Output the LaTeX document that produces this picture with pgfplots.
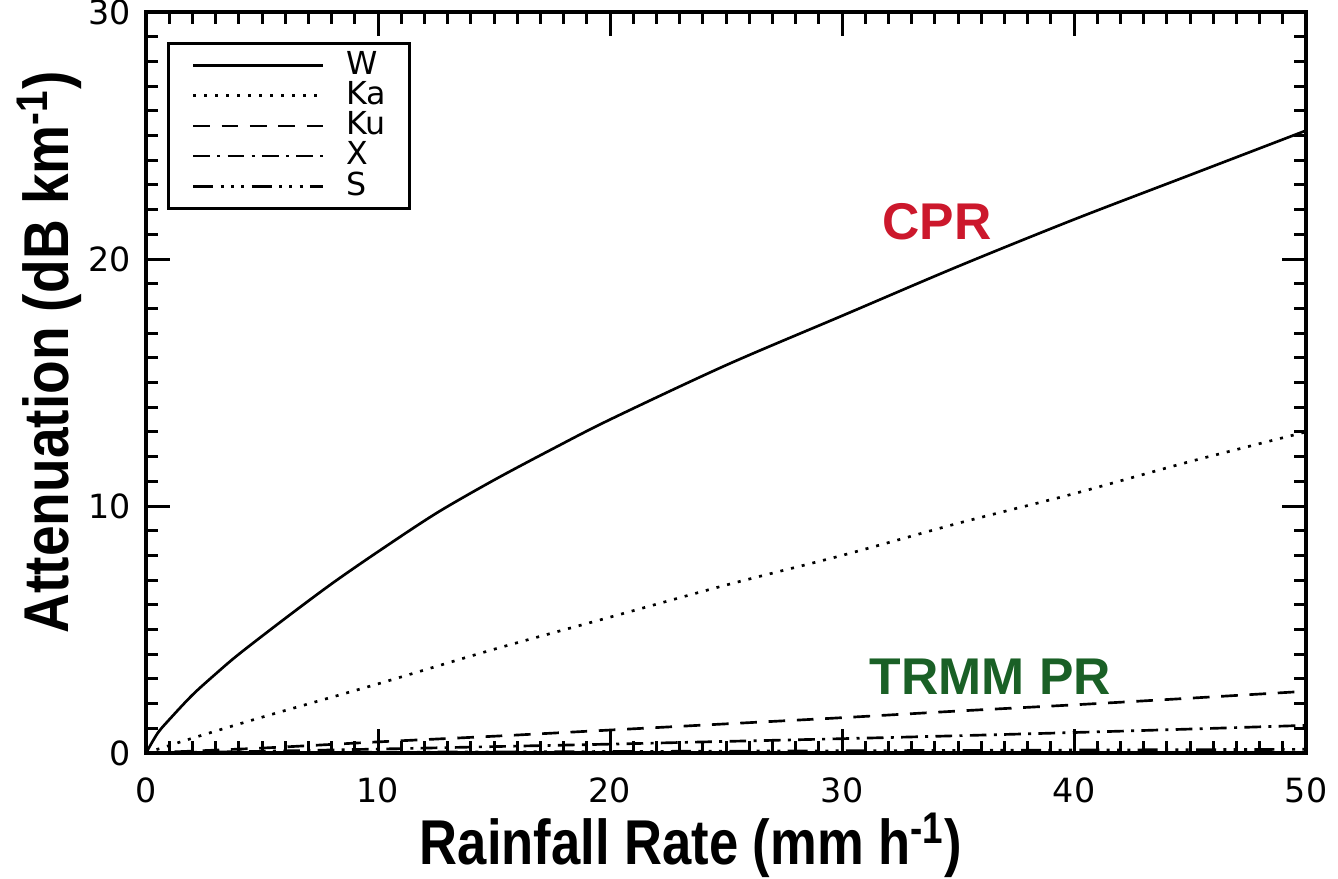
\documentclass[border=0pt]{standalone}
\usepackage{fontspec}
\setmainfont{Liberation Sans}
\newfontfamily\tickfont{DejaVu Sans}
\newfontfamily\labfont[FakeStretch=0.83]{Liberation Sans}
\newfontfamily\ylabfont[FakeStretch=0.87]{Liberation Sans}
\usepackage{pgfplots}
\pgfplotsset{compat=1.18}
\definecolor{cprred}{RGB}{204,24,44}
\definecolor{trmmgreen}{RGB}{26,96,38}

\begin{document}
\begin{tikzpicture}
\begin{axis}[
    scale only axis,
    width=348pt, height=222.3pt,
    xmin=0, xmax=50, ymin=0, ymax=30,
    xtick={0,10,20,30,40,50},
    ytick={0,10,20,30},
    minor x tick num=9,
    minor y tick num=9,
    tick align=inside,
    major tick length=7.2pt,
    minor tick length=3.6pt,
    tick style={black, line width=0.9pt},
    axis line style={line width=1.2pt},
    tick label style={font=\tickfont\fontsize{10}{12}\selectfont},
    /pgf/number format/assume math mode=true,
    xticklabel style={yshift=-4pt},
    yticklabel style={xshift=-1pt},
    xlabel={\labfont\bfseries Rainfall Rate (mm h\textsuperscript{-1})},
    ylabel={\ylabfont\bfseries Attenuation (dB km\textsuperscript{-1})},
    label style={font=\fontsize{19}{22}\selectfont},
    xlabel style={at={(axis description cs:0.47,-0.124)}, anchor=center},
    ylabel style={at={(axis description cs:-0.083,0.541)}, anchor=center},
    legend style={
        at={(axis description cs:0.018,0.96)}, anchor=north west,
        draw=black, line width=1.0pt,
        font=\tickfont\fontsize{9.5}{10}\selectfont,
        inner xsep=7pt, inner ysep=2.5pt,
        nodes={inner sep=0pt},
        row sep=0.6pt, column sep=6.6pt,
        cells={anchor=west}
    },
    legend image code/.code={\draw[#1, line width=0.8pt] (0pt,0pt) -- (39pt,0pt);},
]
% W
\addplot[black, line width=0.8pt, smooth] coordinates {
    (0,0) (0.5,0.8) (1,1.35) (2,2.35) (3,3.2) (4,4.0) (6,5.45) (8,6.85)
    (10,8.15) (12.5,9.7) (15,11.05) (17.5,12.3) (20,13.5) (25,15.7)
    (30,17.7) (35,19.7) (40,21.6) (45,23.4) (50,25.2)
};
% Ka
\addplot[black, line width=0.8pt, smooth, dash pattern=on 0.9pt off 2.4pt] coordinates {
    (0,0) (2,0.6) (5,1.45) (10,2.8) (15,4.2) (20,5.5) (25,6.8)
    (30,8.0) (35,9.3) (40,10.5) (45,11.8) (50,13.0)
};
% Ku
\addplot[black, line width=0.8pt, smooth, dash pattern=on 5pt off 3.5pt] coordinates {
    (0,0) (5,0.2) (10,0.45) (15,0.68) (20,0.93) (25,1.18) (30,1.43)
    (35,1.7) (40,1.95) (45,2.22) (50,2.5)
};
% X
\addplot[black, line width=0.8pt, smooth, dash pattern=on 5pt off 2.2pt on 0.9pt off 2.2pt] coordinates {
    (0,0) (5,0.07) (10,0.16) (15,0.26) (20,0.36) (25,0.47) (30,0.58)
    (35,0.7) (40,0.83) (45,0.97) (50,1.12)
};
% S
\addplot[black, line width=0.8pt, dash pattern=on 6pt off 2.2pt on 0.9pt off 2.2pt on 0.9pt off 2.2pt on 0.9pt off 2.2pt] coordinates {
    (0,0) (10,0.03) (20,0.06) (30,0.09) (40,0.12) (50,0.15)
};
\legend{W,Ka,Ku,X,S}
\node[font=\bfseries\fontsize{15.5}{18}\selectfont, text=cprred] at (axis cs:34.1,21.5) {CPR};
\node[font=\bfseries\fontsize{15.5}{18}\selectfont, text=trmmgreen] at (axis cs:36.4,3.1) {TRMM PR};
\end{axis}
\pgfresetboundingbox
\path[use as bounding box] (-43.8pt,-37.5pt) rectangle (357.6pt,225.9pt);
\end{tikzpicture}
\end{document}
